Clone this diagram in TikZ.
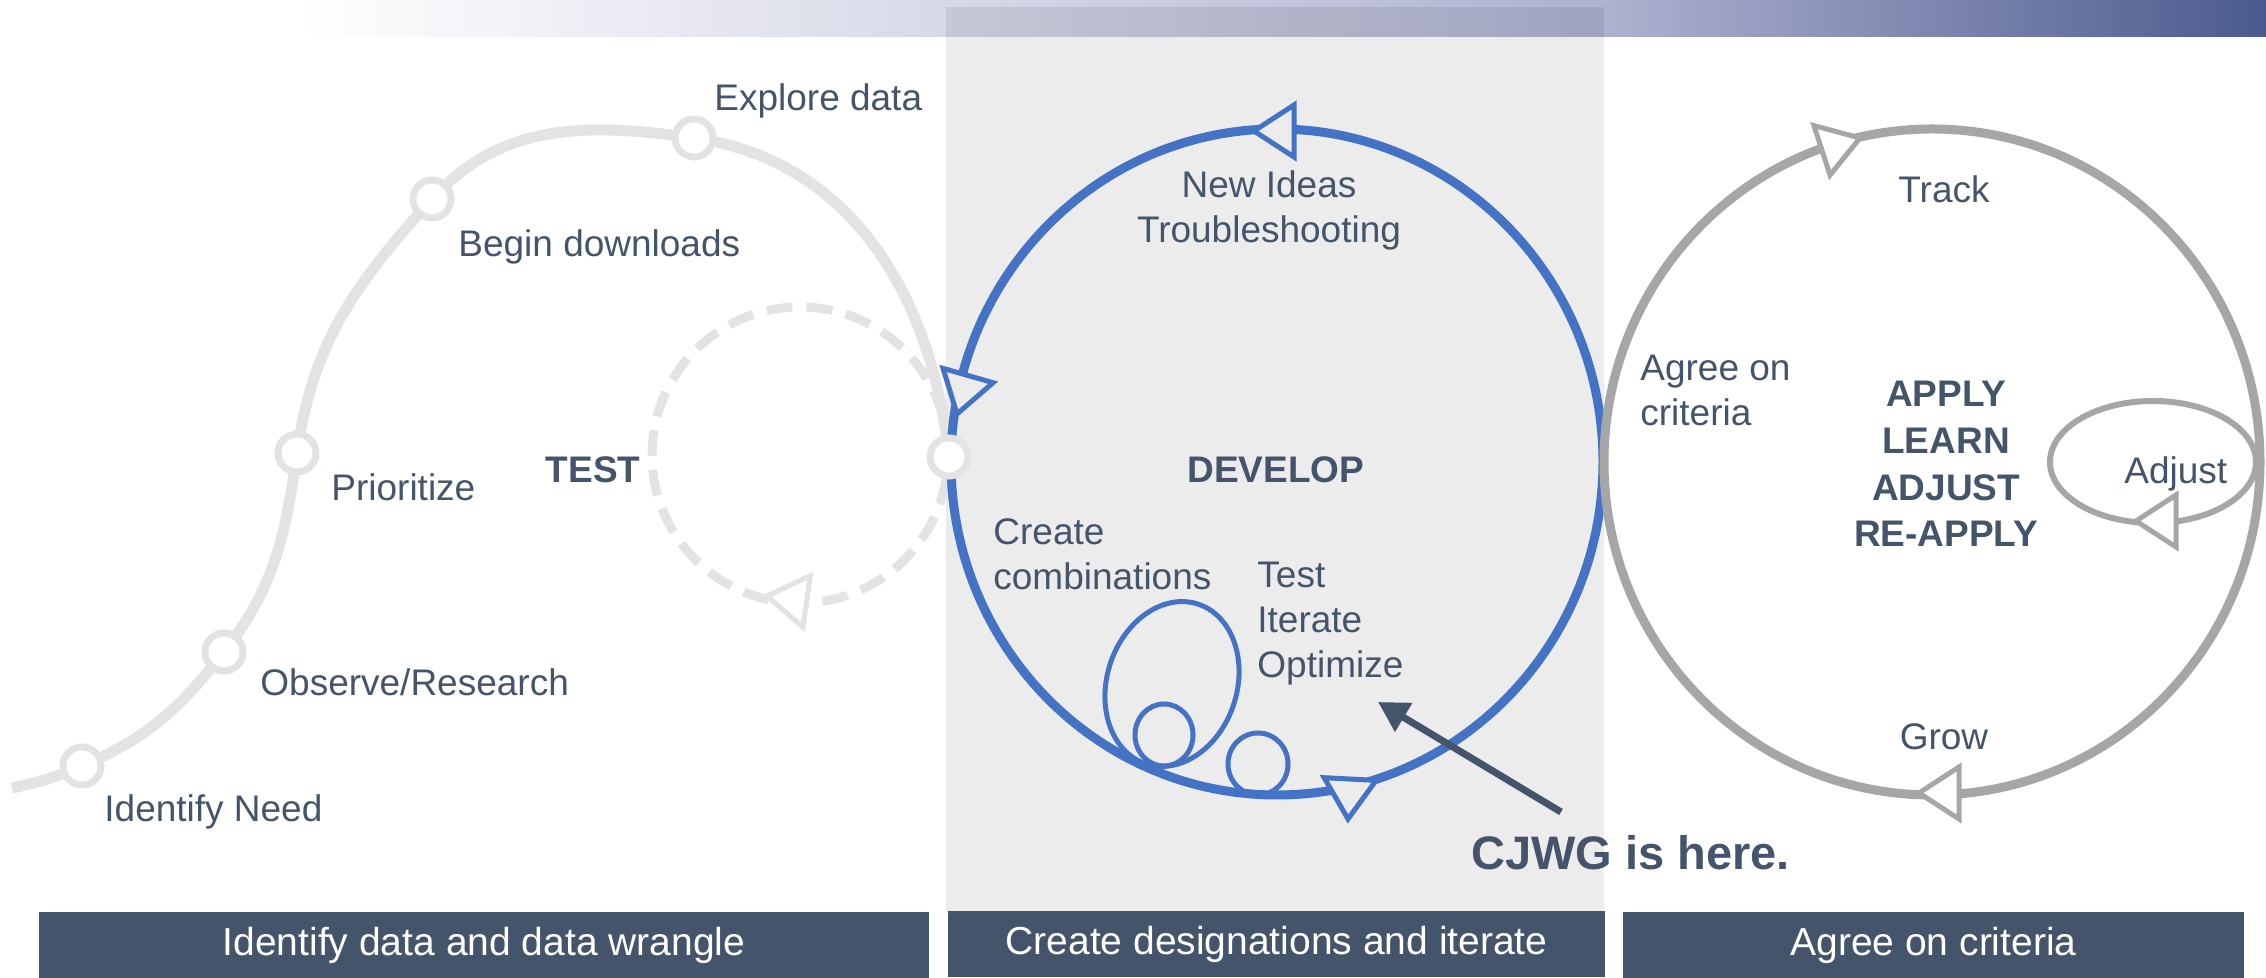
\documentclass[tikz,border=0pt]{standalone}
\usepackage{fontspec}
\setmainfont{Liberation Sans}
\usepackage{xcolor}
\usepackage{tikz}
\usetikzlibrary{arrows.meta}

\definecolor{slate}{HTML}{44546A}
\definecolor{devblue}{HTML}{4472C4}
\definecolor{pathgray}{HTML}{E3E3E3}
\definecolor{ringgray}{HTML}{A6A6A6}
\definecolor{panelgray}{HTML}{ECECEC}
\definecolor{barblue}{HTML}{4B5A8E}
\definecolor{barmid}{HTML}{AEB2D0}

\begin{document}
\begin{tikzpicture}[
  x = 0.5pt, y = 0.5pt,
  every node/.style = {inner sep = 0pt, text = slate, font = \fontsize{18.5}{22.5}\selectfont},
  label/.style = {anchor = west, align = left},
  heading/.style = {align = center, font = \fontsize{18.5}{23.4}\selectfont\bfseries},
  milestone/.style = {circle, draw = pathgray, fill = white, line width = 3.5pt, minimum size = 19pt},
  banner/.style = {fill = slate, text = white, minimum height = 33pt, font = \fontsize{19.5}{23}\selectfont},
  tri/.pic = {\path[pic actions] (0,0) -- (-40,26) -- (-40,-26) -- cycle;},
  bluetip/.style = {draw = devblue, fill = panelgray, line width = 2.5pt},
  graytip/.style = {draw = ringgray, fill = white, line width = 2.5pt}
  ]
  \useasboundingbox (0,0) rectangle (2266,978);

  \fill[panelgray] (946,65) rectangle (1604,971);
  \shade[left color = white, right color = barmid] (300,941) rectangle (1604,978);
  \shade[left color = barmid, right color = barblue] (1604,941) rectangle (2266,978);
  \fill[black, opacity = 0.08] (946,941) rectangle (1604,971);

  \node[banner, minimum width = 445pt] (wrangle) at (484,33) {Identify data and data wrangle};
  \node[banner, minimum width = 328.5pt] (iterate) at (1276.5,33.5) {Create designations and iterate};
  \node[banner, minimum width = 310.5pt] (criteria) at (1933.5,33) {Agree on criteria};

  \coordinate (start) at (12,190);
  \coordinate (need) at (82,212);
  \coordinate (observe) at (224,326);
  \coordinate (prior) at (297,525);
  \coordinate (begin) at (432,779);
  \coordinate (explore) at (694,840);
  \coordinate (junc) at (949,521);
  \draw[pathgray, line width = 5.5pt]
    (start) to[out = 12, in = 203] (need)
    to[out = 23, in = 232] (observe)
    to[out = 52, in = 262] (prior)
    to[out = 82, in = 228] (begin)
    to[out = 48, in = 172] (explore)
    to[out = -8, in = 96] (junc);
  \foreach \p in {need, observe, prior, begin, explore}
    \node[milestone] at (\p) {};

  \draw[pathgray, line width = 4.5pt, dash pattern = on 13pt off 7pt] (800,523) circle[radius = 148];
  \pic[graytip, draw = pathgray, rotate = 172] at (767,382) {tri};

  \node[label] (l-explore) at (714,877) {Explore data};
  \node[label] (l-begin) at (458,731) {Begin downloads};
  \node[label] (l-prior) at (331,491) {Prioritize};
  \node[label] (l-observe) at (260,296) {Observe/Research};
  \node[label] (l-need) at (104,166) {Identify Need};
  \node[heading] (test) at (593,508) {TEST};

  \draw[devblue, line width = 4.5pt] (1277,516) ellipse[x radius = 326, y radius = 333];
  \draw[devblue, line width = 2.5pt, rotate around = {-18:(1172,294)}] (1172,294) ellipse[x radius = 65, y radius = 84];
  \draw[devblue, line width = 2.5pt] (1164,243) ellipse[x radius = 29, y radius = 31];
  \draw[devblue, line width = 2.5pt] (1258,214) ellipse[x radius = 30, y radius = 31];
  \pic[bluetip, rotate = 180] at (1254,847) {tri};
  \pic[bluetip, rotate = 254] at (957,564) {tri};
  \pic[bluetip, rotate = 267] at (1348,159) {tri};
  \node[milestone] (junction) at (junc) {};

  \node[align = center] (ideas) at (1269,768) {New Ideas\\Troubleshooting};
  \node[heading] (develop) at (1276,508) {DEVELOP};
  \node[label] (combos) at (993,424) {Create\\combinations};
  \node[label] (optim) at (1257,354) {Test\\Iterate\\Optimize};

  \draw[ringgray, line width = 4.5pt] (1932,516) ellipse[x radius = 328, y radius = 333];
  \draw[ringgray, line width = 3pt] (2153,516) ellipse[x radius = 103, y radius = 61];
  \pic[graytip, rotate = 18] at (1860,840) {tri};
  \pic[graytip, rotate = 180] at (1919,185) {tri};
  \pic[graytip, rotate = 180] at (2136,457) {tri};

  \node (track) at (1944,789) {Track};
  \node[label] (agree) at (1640,588) {Agree on\\criteria};
  \node[heading] (apply) at (1946,514) {APPLY\\LEARN\\ADJUST\\RE-APPLY};
  \node[label] (adjust) at (2124,504) {Adjust};
  \node (grow) at (1944,241) {Grow};

  \node[label, font = \fontsize{23.5}{28}\selectfont\bfseries] (cjwg) at (1471,125) {CJWG is here.};
  \coordinate (ptr-tail) at (1561,166);
  \coordinate (ptr-head) at (1378,276);
  \draw[slate, line width = 3.5pt, -{Triangle[length = 15pt, width = 16pt]}] (ptr-tail) -- (ptr-head);
\end{tikzpicture}
\end{document}
